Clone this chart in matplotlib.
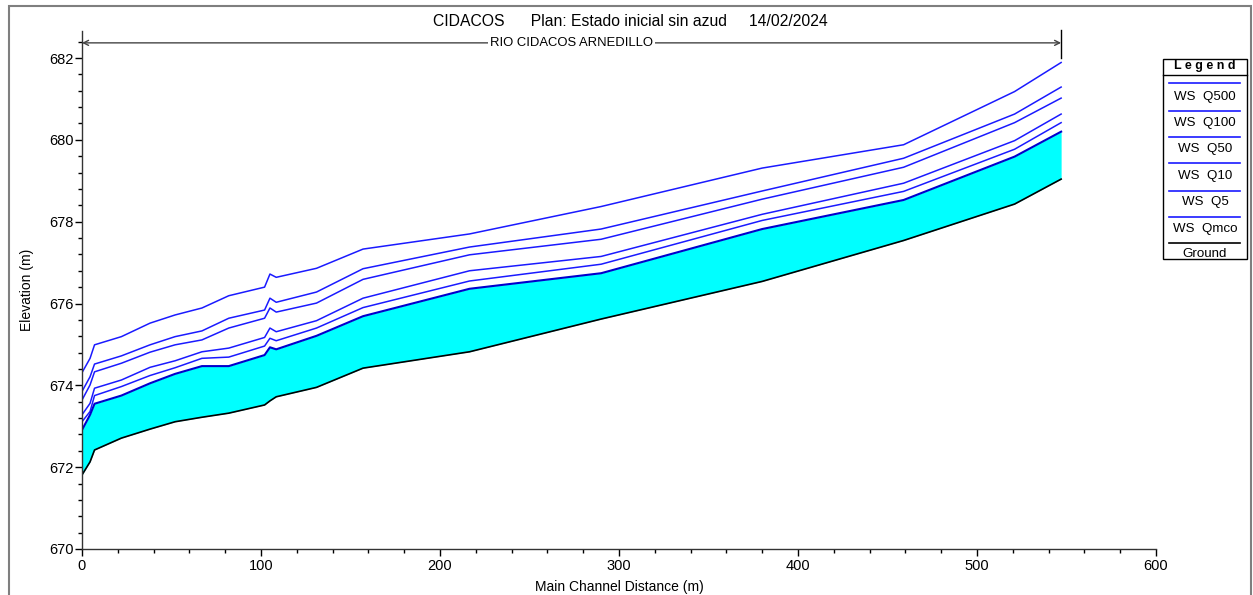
import matplotlib
matplotlib.use("Agg")
import matplotlib.pyplot as plt
from matplotlib.patches import Rectangle
from matplotlib.lines import Line2D
from matplotlib.ticker import MultipleLocator

plt.rcParams['font.family'] = ['Liberation Sans', 'DejaVu Sans']

# ---- data ----
station = [0, 4.5, 7, 22, 38, 52, 67, 82, 102, 105, 108.5, 131, 157, 216.5, 290, 380, 459, 521, 547]
ground = [671.81, 672.13, 672.42, 672.71, 672.93, 673.11, 673.22, 673.32, 673.52, 673.62, 673.72,
          673.95, 674.42, 674.82, 675.62, 676.54, 677.54, 678.43, 679.04]
ws_qmco = [672.91, 673.28, 673.55, 673.75, 674.05, 674.28, 674.47, 674.47, 674.74, 674.93, 674.88,
           675.21, 675.69, 676.36, 676.74, 677.82, 678.53, 679.59, 680.20]
ws_q5 = [673.11, 673.36, 673.75, 673.97, 674.24, 674.43, 674.66, 674.69, 674.96, 675.15, 675.09,
         675.40, 675.90, 676.55, 676.96, 678.03, 678.74, 679.77, 680.42]
ws_q10 = [673.28, 673.56, 673.93, 674.13, 674.44, 674.60, 674.82, 674.91, 675.17, 675.40, 675.31,
          675.58, 676.13, 676.80, 677.15, 678.18, 678.94, 679.98, 680.63]
ws_q50 = [673.64, 674.01, 674.33, 674.54, 674.81, 674.99, 675.11, 675.40, 675.64, 675.89, 675.79,
          676.01, 676.59, 677.19, 677.57, 678.55, 679.33, 680.42, 681.02]
ws_q100 = [673.85, 674.21, 674.52, 674.72, 674.99, 675.19, 675.33, 675.64, 675.84, 676.13, 676.03,
           676.28, 676.85, 677.38, 677.82, 678.75, 679.55, 680.63, 681.29]
ws_q500 = [674.31, 674.66, 674.99, 675.19, 675.52, 675.72, 675.89, 676.19, 676.40, 676.72, 676.64,
           676.86, 677.33, 677.70, 678.37, 679.31, 679.88, 681.18, 681.89]

legend_labels = ["WS  Q500", "WS  Q100", "WS  Q50", "WS  Q10", "WS  Q5", "WS  Qmco", "Ground"]
title_text = "CIDACOS      Plan: Estado inicial sin azud     14/02/2024"
reach_name = "RIO CIDACOS ARNEDILLO"
reach_start, reach_end = 0, 547

W, H = 1253, 595
fig = plt.figure(figsize=(W / 100, H / 100), dpi=100)

def fx(px):
    return px / W

def fy(py):
    return 1 - py / H

# outer frame
fig.patches.append(Rectangle((fx(9), fy(600)), fx(1251) - fx(9), fy(6) - fy(600),
                             transform=fig.transFigure, fill=False, edgecolor='#7f7f7f', lw=1.5))

ax = fig.add_axes([fx(82), fy(549), fx(1156) - fx(82), fy(31) - fy(549)])
ax.set_xlim(0, 600)
ax.set_ylim(670, 682.66)
for s in ['top', 'right']:
    ax.spines[s].set_visible(False)
for s in ['left', 'bottom']:
    ax.spines[s].set_linewidth(1.0)
    ax.spines[s].set_color('#333333')

ax.fill_between(station, ground, ws_qmco, color='#00FFFF', lw=0)
blue = '#1a1aff'
for ws in [ws_q500, ws_q100, ws_q50, ws_q10, ws_q5]:
    ax.plot(station, ws, color=blue, lw=1.1)
ax.plot(station, ws_qmco, color='#0000cc', lw=1.5)
ax.plot(station, ground, color='black', lw=1.2)

ax.xaxis.set_major_locator(MultipleLocator(100))
ax.xaxis.set_minor_locator(MultipleLocator(20))
ax.yaxis.set_major_locator(MultipleLocator(2))
ax.yaxis.set_minor_locator(MultipleLocator(0.4))
ax.tick_params(which='major', length=5, width=1, labelsize=10.5)
ax.tick_params(axis='y', which='major', pad=0.8)
ax.tick_params(axis='x', which='major', pad=2)
ax.tick_params(which='minor', length=3, width=1)
ax.set_xlabel("Main Channel Distance (m)", fontsize=10, labelpad=5)
ax.set_ylabel("Elevation (m)", fontsize=10, labelpad=11)

# reach arrow
yr = 682.37
ax.annotate('', xy=(reach_start, yr), xytext=(reach_end, yr), annotation_clip=False,
            arrowprops=dict(arrowstyle='<->', color='#444444', lw=1.0, shrinkA=0, shrinkB=0,
                            mutation_scale=9))
ax.plot([reach_end, reach_end], [682.0, 682.69], color='black', lw=1.0, clip_on=False)
ax.text((reach_start + reach_end) / 2, yr, reach_name, ha='center', va='center', fontsize=9.4,
        bbox=dict(facecolor='white', edgecolor='none', pad=1.5))

fig.text(fx(630), fy(21), title_text, ha='center', va='center', fontsize=11.3)

# legend
lx0, lx1 = 1163, 1247
ly0, ly1 = 59, 259
fig.patches.append(Rectangle((fx(lx0), fy(ly1)), fx(lx1) - fx(lx0), fy(ly0) - fy(ly1),
                             transform=fig.transFigure, fill=False, edgecolor='black', lw=1.0))
fig.lines.append(Line2D([fx(lx0), fx(lx1)], [fy(74.5), fy(74.5)], transform=fig.transFigure,
                        color='black', lw=1.0))
fig.text(fx((lx0 + lx1) / 2), fy(66.5), "L e g e n d", ha='center', va='center', fontsize=9,
         fontweight='bold')
line_y = [83.3, 110.7, 137.3, 163.3, 190.7, 216.7, 243.3]
text_y = [96.7, 122.7, 149.3, 176, 202, 228.7, 254]
colors = [blue] * 6 + ['black']
for lab, ly, ty, c in zip(legend_labels, line_y, text_y, colors):
    fig.lines.append(Line2D([fx(1169), fx(1240)], [fy(ly), fy(ly)], transform=fig.transFigure,
                            color=c, lw=1.2))
    fig.text(fx((lx0 + lx1) / 2), fy(ty), lab, ha='center', va='center', fontsize=9.6)

fig.savefig("out.png", dpi=100)
